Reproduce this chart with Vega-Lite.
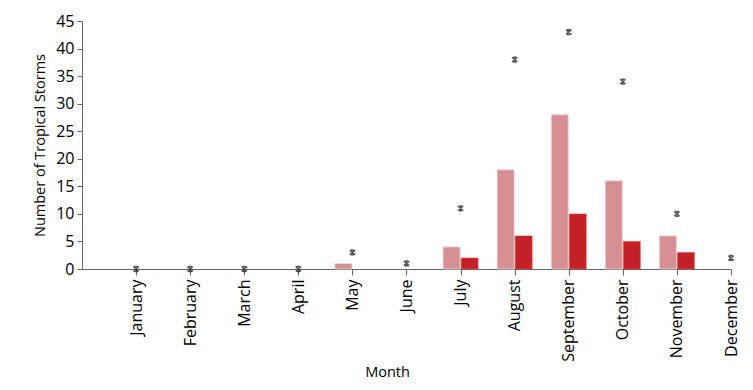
{
  "$schema": "https://vega.github.io/schema/vega-lite/v6.json",
  "autosize": "none",
  "width": 649,
  "height": 248,
  "padding": {"left": 82, "top": 21, "right": 22, "bottom": 121},
  "background": "white",
  "config": {
    "view": {"stroke": null},
    "font": "Open Sans",
    "axis": {"grid": false, "domainColor": "#666666", "tickColor": "#666666", "labelColor": "#000000", "titleColor": "#000000", "labelFontSize": 16, "titleFontSize": 14.5, "titleFontWeight": "normal", "labelFont": "Open Sans", "titleFont": "Open Sans", "labelOverlap": false}
  },
  "data": {"values": [
    {"month": "January", "storms": 0, "hurricanes": 0, "max": 0},
    {"month": "February", "storms": 0, "hurricanes": 0, "max": 0},
    {"month": "March", "storms": 0, "hurricanes": 0, "max": 0},
    {"month": "April", "storms": 0, "hurricanes": 0, "max": 0},
    {"month": "May", "storms": 1, "hurricanes": 0, "max": 3},
    {"month": "June", "storms": 0, "hurricanes": 0, "max": 1},
    {"month": "July", "storms": 4, "hurricanes": 2, "max": 11},
    {"month": "August", "storms": 18, "hurricanes": 6, "max": 38},
    {"month": "September", "storms": 28, "hurricanes": 10, "max": 43},
    {"month": "October", "storms": 16, "hurricanes": 5, "max": 34},
    {"month": "November", "storms": 6, "hurricanes": 3, "max": 10},
    {"month": "December", "storms": 0, "hurricanes": 0, "max": 2}
  ]},
  "encoding": {
    "x": {
      "field": "month", "type": "ordinal", "sort": null,
      "scale": {"type": "point", "padding": 0.5, "align": 1, "domain": ["January","February","March","April","May","June","July","August","September","October","November","December"]},
      "axis": {"title": "Month", "labelAngle": -90, "tickSize": 6, "labelPadding": 4, "titleY": 96, "titleX": 305}
    }
  },
  "layer": [
    {
      "transform": [{"filter": "datum.storms > 0"}],
      "mark": {"type": "bar", "width": 17, "xOffset": -9, "color": "#d68f92", "stroke": "#f2d3d3", "strokeWidth": 0.8},
      "encoding": {
        "y": {"field": "storms", "type": "quantitative",
          "scale": {"domain": [0, 45]},
          "axis": {"title": "Number of Tropical Storms", "values": [0,5,10,15,20,25,30,35,40,45], "tickSize": 5, "titlePadding": 8, "labelPadding": 3}}
      }
    },
    {
      "transform": [{"filter": "datum.hurricanes > 0"}],
      "mark": {"type": "bar", "width": 17, "xOffset": 9, "color": "#c32028", "stroke": "#e0553a", "strokeWidth": 0.6},
      "encoding": {
        "y": {"field": "hurricanes", "type": "quantitative",
          "scale": {"domain": [0, 45]},
          "axis": {"title": "Number of Tropical Storms", "values": [0,5,10,15,20,25,30,35,40,45], "tickSize": 5, "titlePadding": 8, "labelPadding": 3}}
      }
    },
    {
      "mark": {"type": "point", "shape": "M-1,-0.9L1,0.9M-1,0.9L1,-0.9M-0.6,-0.9H0.6M-0.6,0.9H0.6", "size": 28, "filled": false, "stroke": "#111111", "strokeWidth": 1.5},
      "encoding": {
        "y": {"field": "max", "type": "quantitative",
          "scale": {"domain": [0, 45]},
          "axis": {"title": "Number of Tropical Storms", "values": [0,5,10,15,20,25,30,35,40,45], "tickSize": 5, "titlePadding": 8, "labelPadding": 3}}
      }
    }
  ]
}
